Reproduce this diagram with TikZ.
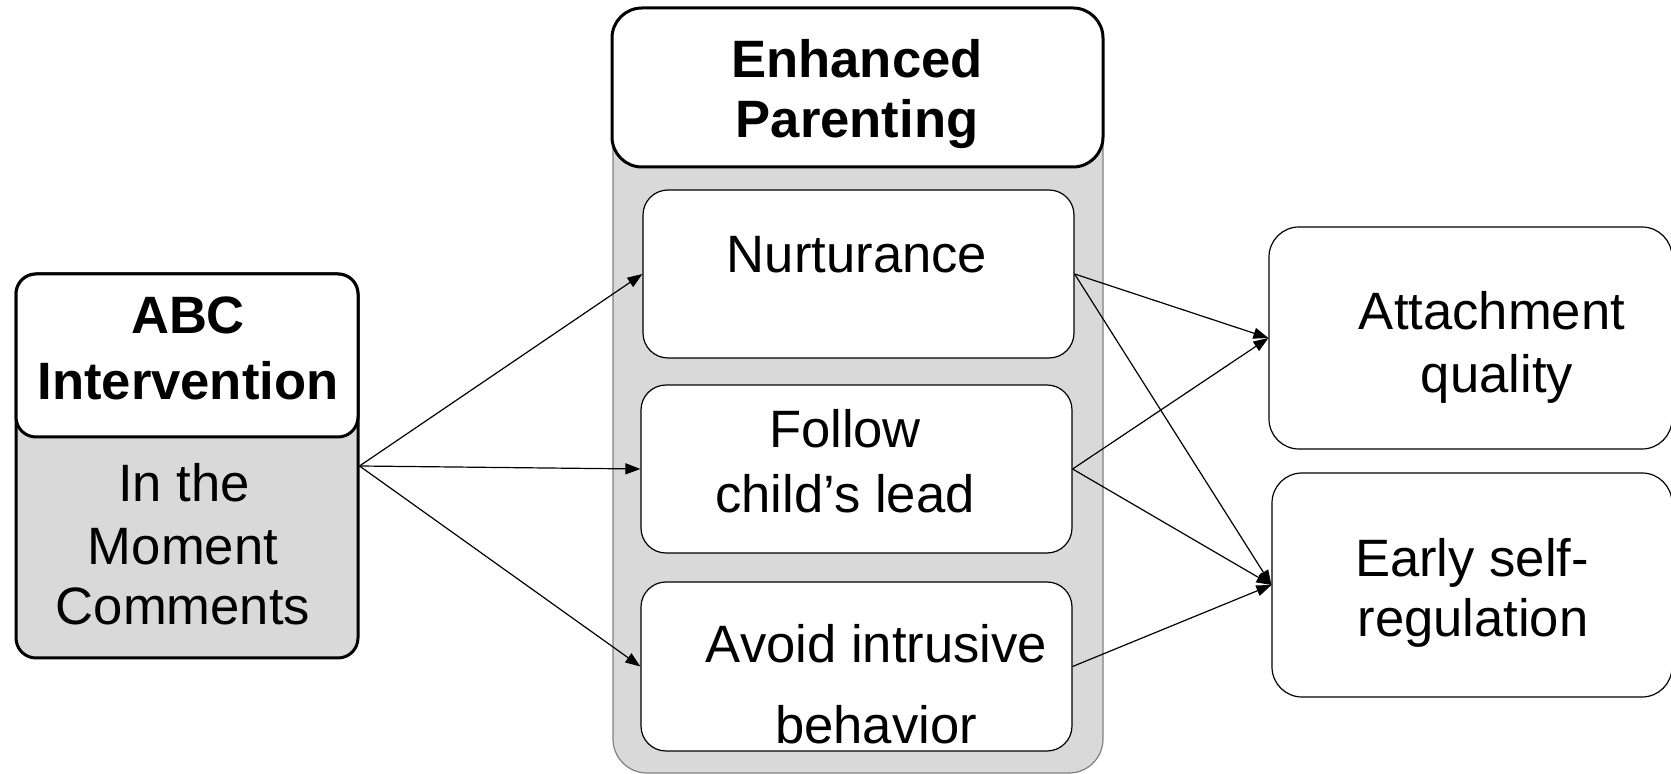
\documentclass[tikz,border=0pt]{standalone}
\usepackage{fontspec}
\setmainfont{Liberation Sans}
\usetikzlibrary{arrows.meta}
\definecolor{boxgray}{HTML}{D9D9D9}
\definecolor{edgegray}{HTML}{808080}
\begin{document}
\begin{tikzpicture}[x=0.5pt,y=-0.5pt,
  txt/.style={font=\fontsize{26.3}{32}\selectfont, inner sep=0pt, anchor=base},
  boldtxt/.style={txt, font=\fontsize{26.3}{32}\selectfont\bfseries},
  thickbox/.style={rectangle, draw=black, line width=1.5pt, inner sep=0pt},
  innerbox/.style={rectangle, draw=black, line width=0.6pt, fill=white, rounded corners=12.5pt, inner sep=0pt, minimum width=215.5pt, minimum height=84pt},
  outbox/.style={rectangle, draw=black, line width=0.6pt, fill=white, rounded corners=15pt, inner sep=0pt},
  arr/.style={-{Triangle[length=7.5pt,width=5.5pt]}, line width=0.6pt, draw=black}]
\useasboundingbox (0,0) rectangle (1671,774);

% ABC box
\node[thickbox, fill=boxgray, rounded corners=10pt, minimum width=171pt, minimum height=192pt] (abc) at (187,466) {};
\node[thickbox, fill=white, rounded corners=10pt, minimum width=171pt, minimum height=81.5pt] (abchead) at (187,355.5) {};
\node[boldtxt] (t1) at (188,334) {ABC};
\node[boldtxt] (t2) at (188,400) {Intervention};
\node[txt] (t3) at (184,502) {In the};
\node[txt] (t4) at (183,565) {Moment};
\node[txt] (t5) at (183,625) {Comments};

% Enhanced parenting container
\node[rectangle, draw=edgegray, line width=0.6pt, fill=boxgray, rounded corners=17pt, inner sep=0pt, minimum width=245pt, minimum height=346.5pt] (cont) at (858,426.5) {};
\node[thickbox, fill=white, rounded corners=15pt, minimum width=245.5pt, minimum height=79.5pt] (ephead) at (857.5,87.5) {};
\node[boldtxt] (t6) at (857,78) {Enhanced};
\node[boldtxt] (t7) at (857,138) {Parenting};

\node[innerbox] (nur) at (858.5,274) {};
\node[innerbox] (fol) at (856.5,469) {};
\node[innerbox, minimum height=84.5pt] (avo) at (856.5,666.5) {};
\node[txt] (t8) at (857,273) {Nurturance};
\node[txt] (t9) at (845,448) {Follow};
\node[txt] (t10) at (845,513) {child’s lead};
\node[txt] (t11) at (876.5,663) {Avoid intrusive};
\node[txt] (t12) at (876,743) {behavior};

% outcomes
\node[outbox, minimum width=201.5pt, minimum height=111pt] (att) at (1470.5,338) {};
\node[outbox, minimum width=200pt, minimum height=112pt] (ear) at (1472,585) {};
\node[txt] (t13) at (1492,330) {Attachment};
\node[txt] (t14) at (1497,393) {quality};
\node[txt] (t15) at (1472,577) {Early self-};
\node[txt] (t16) at (1473,637) {regulation};

% arrows
\draw[arr] (abc.east) -- (nur.west);
\draw[arr] (abc.east) -- (fol.west);
\draw[arr] (abc.east) -- (avo.west);
\draw[arr] (nur.east) -- (att.west);
\draw[arr] (nur.east) -- (ear.west);
\draw[arr] (fol.east) -- (att.west);
\draw[arr] (fol.east) -- (ear.west);
\draw[arr] (avo.east) -- (ear.west);
\end{tikzpicture}
\end{document}
